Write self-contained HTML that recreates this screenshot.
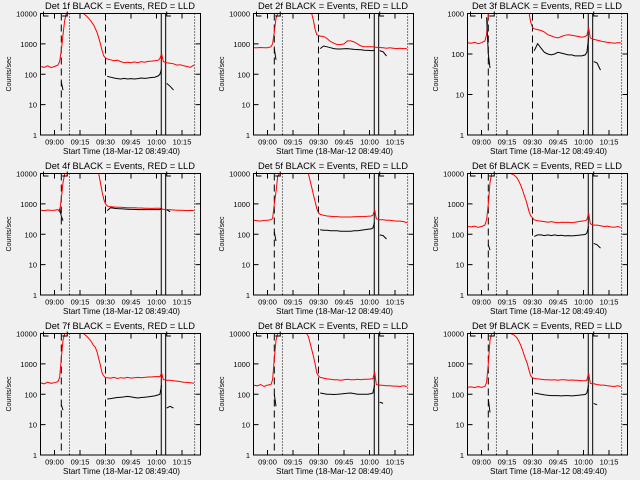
<!DOCTYPE html>
<html><head><meta charset="utf-8"><style>
html,body{margin:0;padding:0;background:#f0f0f0;}
svg{display:block;font-family:"Liberation Sans",sans-serif;}
</style></head><body>
<svg id="chart" width="640" height="480" viewBox="0 0 640 480" xmlns="http://www.w3.org/2000/svg"></svg>
<script>
const N=null;
const times=[-8.5,-6,-4,-2,0,2,3,4,5,6,7,8,10,12,14,16,17,18,19,20,21,22,23,24,25,26,27,28,29,30,31,33,35,37,39,41,43,45,47,49,51,53,55,57,59,61,62,63,64,65,66,68,70,72,74,76,78,80,82];
const detNames=["1f","2f","3f","4f","5f","6f","7f","8f","9f"];
const yMaxDecade=[4,4,3,4,4,4,4,4,4];
const xTickMinutes=[0,15,30,45,60,75];
const xTickLabels=["09:00","09:15","09:30","09:45","10:00","10:15"];
const markerMinutes={dashed:[4,30],dotted:[8.8,82.4],solid:[62.8,65.4]};
const red1=[180,170,190,165,180,200,260,600,2000,6000,1e4,1e4,1e4,1e4,1e4,1e4,1e4,9000,8000,7000,6000,5000,4200,3200,2400,1600,1000,600,400,340,320,300,280,290,260,240,250,240,255,240,260,250,265,270,280,290,330,480,260,250,240,230,220,200,205,190,180,170,200];
const blk1=[N,N,N,N,N,N,N,55,30,N,N,N,N,N,N,N,N,N,N,N,N,N,N,N,N,N,N,N,N,N,85,80,75,72,70,73,70,72,70,72,75,73,75,78,80,88,100,150,N,N,50,40,30,N,N,N,N,N,N];
const red2=[750,740,760,750,750,800,1000,2500,7000,1e4,1e4,1e4,1e4,1e4,1e4,1e4,1e4,1e4,1e4,1e4,1e4,1e4,1e4,1e4,1e4,1e4,6000,3000,2000,1900,1800,1750,1500,1200,1050,950,950,1000,1250,1250,1150,1000,850,800,800,800,800,780,780,760,760,740,720,740,720,700,720,700,700];
const blk2=[N,N,N,N,N,N,N,700,300,N,N,N,N,N,N,N,N,N,N,N,N,N,N,N,N,N,N,N,N,N,700,850,800,750,700,680,680,690,700,680,660,650,640,620,610,600,600,620,N,N,600,550,400,N,N,N,N,N,N];
const red3=[190,185,195,180,190,210,300,1000,1000,1000,1000,1000,1000,1000,1000,1000,1000,1000,1000,1000,1000,1000,1000,1000,1000,1000,1000,1000,600,450,420,400,380,350,300,280,260,250,270,290,300,290,280,270,260,270,290,450,250,240,230,220,210,200,195,190,185,190,190];
const blk3=[N,N,N,N,N,N,800,100,45,N,N,N,N,N,N,N,N,N,N,N,N,N,N,N,N,N,N,N,N,N,120,180,140,110,100,95,100,110,105,100,95,95,90,90,90,95,110,250,N,N,65,60,40,N,N,N,N,N,N];
const red4=[620,600,630,610,620,650,550,1500,5000,1e4,1e4,1e4,1e4,1e4,1e4,1e4,1e4,1e4,1e4,1e4,1e4,1e4,1e4,1e4,1e4,1e4,5000,2500,1400,1000,850,800,790,780,770,760,750,740,740,730,730,720,720,710,720,720,720,700,660,650,640,640,630,620,620,610,600,610,600];
const blk4=[N,N,N,N,N,N,700,400,280,N,N,N,N,N,N,N,N,N,N,N,N,N,N,N,N,N,N,N,N,N,600,750,720,700,690,680,670,660,660,650,650,650,650,650,650,650,650,700,N,N,650,550,N,N,N,N,N,N,N];
const red5=[290,280,270,285,290,300,330,1000,2500,8000,1e4,1e4,1e4,1e4,1e4,1e4,1e4,1e4,1e4,1e4,1e4,1e4,1e4,1e4,6000,3500,2000,1200,700,500,450,420,400,390,380,380,370,370,370,370,375,380,380,385,390,400,420,650,320,310,300,300,290,290,280,270,270,260,240];
const blk5=[N,N,N,N,N,N,N,120,60,N,N,N,N,N,N,N,N,N,N,N,N,N,N,N,N,N,N,N,N,N,140,135,135,130,130,130,125,125,125,125,130,130,135,140,145,150,160,250,N,N,95,90,70,N,N,N,N,N,N];
const red6=[180,175,185,170,180,200,300,1000,5000,1e4,1e4,1e4,1e4,1e4,1e4,1e4,1e4,9500,9000,8000,7000,5500,4200,3000,2000,1400,900,550,400,350,300,280,270,260,250,260,250,240,250,245,250,240,250,260,270,280,300,500,220,210,200,200,190,180,185,175,170,180,170];
const blk6=[N,N,N,N,N,N,N,45,30,N,N,N,N,N,N,N,N,N,N,N,N,N,N,N,N,N,N,N,N,N,85,95,95,90,95,90,95,90,92,88,90,88,90,92,95,98,110,180,N,N,50,45,35,N,N,N,N,N,N];
const red7=[240,220,250,230,240,260,350,1500,6000,1e4,1e4,1e4,1e4,1e4,1e4,1e4,1e4,9000,8000,7000,6000,5000,4000,3500,2500,1500,900,500,400,350,350,340,360,330,350,340,360,340,350,360,350,360,370,370,380,380,380,500,300,300,290,290,280,270,260,250,245,240,230];
const blk7=[N,N,N,N,N,N,N,45,30,N,N,N,N,N,N,N,N,N,N,N,N,N,N,N,N,N,N,N,N,N,70,72,75,78,80,82,85,82,78,75,78,80,82,85,88,95,100,200,N,N,35,40,35,N,N,N,N,N,N];
const red8=[200,190,210,180,200,210,300,1500,6000,1e4,1e4,1e4,1e4,1e4,1e4,1e4,1e4,1e4,1e4,1e4,1e4,1e4,1e4,8000,5000,3000,1800,1000,500,400,360,340,320,310,300,300,290,300,310,300,300,310,300,310,310,320,320,550,210,200,200,195,190,190,185,185,180,190,180];
const blk8=[N,N,N,N,N,N,N,100,40,N,N,N,N,N,N,N,N,N,N,N,N,N,N,N,N,N,N,N,N,N,110,105,100,100,98,100,102,105,108,110,105,100,100,100,100,105,110,200,N,N,55,50,N,N,N,N,N,N,N];
const red9=[170,175,165,180,170,180,250,1000,6000,1e4,1e4,1e4,1e4,1e4,1e4,1e4,1e4,9500,9000,8000,7000,5500,4200,3000,2000,1400,1000,600,400,350,330,320,310,300,300,295,300,290,300,300,290,295,290,285,280,280,290,500,230,220,220,210,200,200,190,185,180,190,180];
const blk9=[N,N,N,N,N,N,N,70,25,N,N,N,N,N,N,N,N,N,N,N,N,N,N,N,N,N,N,N,N,N,110,105,100,95,92,90,90,90,88,90,90,88,90,92,95,98,110,200,N,N,50,45,N,N,N,N,N,N,N];
const redSeries=[red1,red2,red3,red4,red5,red6,red7,red8,red9];
const blackSeries=[blk1,blk2,blk3,blk4,blk5,blk6,blk7,blk8,blk9];

const NS="http://www.w3.org/2000/svg";
const svg=document.getElementById("chart");
function mk(tag,attrs,parent){const e=document.createElementNS(NS,tag);for(const k in attrs)e.setAttribute(k,attrs[k]);parent.appendChild(e);return e;}

for(let p=0;p<9;p++){
  const col=p%3,row=Math.floor(p/3);
  const ox=Math.round(col*213.33),oy=row*160;
  const X0=ox+40.5,X1=ox+200.5,Y0=oy+13.5,Y1=oy+135;
  const top=yMaxDecade[p];
  const xs=m=>ox+54.5+m*1.7;
  const ys=v=>{let l=Math.log10(v);if(l>top)l=top;if(l<0)l=0;return Y0+(top-l)*(Y1-Y0)/top;};
  const g=mk("g",{},svg);
  
  

  const t=mk("text",{x:ox+120,y:oy+9,"font-size":"9","text-anchor":"middle",textLength:"150",lengthAdjust:"spacingAndGlyphs",fill:"#000"},g);
  t.textContent="Det "+detNames[p]+" BLACK = Events, RED = LLD";
  
  

  for(let d=0;d<=top;d++){
    const y=Y0+(top-d)*(Y1-Y0)/top;
    mk("line",{x1:X0,y1:y,x2:X0+5,y2:y,stroke:"#000","stroke-width":1},g);
    mk("line",{x1:X1-5,y1:y,x2:X1,y2:y,stroke:"#000","stroke-width":1},g);
    const lab=mk("text",{x:ox+37,y:y+3,"font-size":"7.5","text-anchor":"end",fill:"#000"},g);
    lab.textContent=String(Math.pow(10,d));
    
    
  }
  const yt=mk("text",{x:0,y:0,"font-size":"7","text-anchor":"middle",fill:"#000",transform:"translate("+(ox+11)+","+(oy+74)+") rotate(-90)"},g);
  yt.textContent="Counts/sec";
  
  

  for(let i=0;i<xTickMinutes.length;i++){
    const x=xs(xTickMinutes[i]);
    mk("line",{x1:x,y1:Y1,x2:x,y2:Y1-5,stroke:"#000","stroke-width":1},g);
    mk("line",{x1:x,y1:Y0,x2:x,y2:Y0+5,stroke:"#000","stroke-width":1},g);
    const lab=mk("text",{x:x,y:oy+144.5,"font-size":"7.5","text-anchor":"middle",fill:"#000"},g);
    lab.textContent=xTickLabels[i];
    
    
  }
  const xt=mk("text",{x:ox+121.5,y:oy+154,"font-size":"8","text-anchor":"middle",textLength:"117",lengthAdjust:"spacingAndGlyphs",fill:"#000"},g);
  xt.textContent="Start Time (18-Mar-12 08:49:40)";
  
  

  const cid="clip"+p;
  const cp=mk("clipPath",{id:cid},g);
  mk("rect",{x:X0,y:Y0,width:X1-X0,height:Y1-Y0},cp);
  const pg=mk("g",{"clip-path":"url(#"+cid+")"},g);

  markerMinutes.dashed.forEach(m=>{const l=mk("line",{x1:xs(m),y1:Y0,x2:xs(m),y2:Y1,stroke:"#000","stroke-width":1,"stroke-dasharray":"7,4"},pg);
    });
  markerMinutes.dotted.forEach(m=>{const l=mk("line",{x1:xs(m),y1:Y0,x2:xs(m),y2:Y1,stroke:"#000","stroke-width":1,"stroke-dasharray":"1,2"},pg);
    });
  markerMinutes.solid.forEach(m=>{const l=mk("line",{x1:xs(m),y1:Y0,x2:xs(m),y2:Y1,stroke:"#000","stroke-width":1},pg);
    });
  const br=mk("path",{d:"M"+(X0+3)+","+(Y0-2)+"V"+(Y0+2.5)+"H"+(X0+8)+" M"+(xs(4.5))+","+(Y0+2.5)+"H"+xs(7.5)+"V"+(Y0-2)+" M"+(xs(66))+","+(Y0-2)+"V"+(Y0+2.5)+"H"+xs(68.5),fill:"none",stroke:"#000","stroke-width":1},g);
  
  

  function drawSeries(vals,color,name){
    let d="",pen=false;
    for(let i=0;i<times.length;i++){
      const v=vals[i];
      if(v===null){pen=false;continue;}
      d+=(pen?"L":"M")+xs(times[i]).toFixed(1)+","+ys(v).toFixed(1);
      pen=true;
    }
    const path=mk("path",{d:d,fill:"none",stroke:color,"stroke-width":1},pg);
    
    
  }
  drawSeries(redSeries[p],"#ff0000","lld-series-red");
  drawSeries(blackSeries[p],"#000000","events-series-black");

  const fr=mk("rect",{x:X0,y:Y0,width:X1-X0,height:Y1-Y0,fill:"none",stroke:"#000","stroke-width":1},g);
  
  
}
</script>
</body></html>
